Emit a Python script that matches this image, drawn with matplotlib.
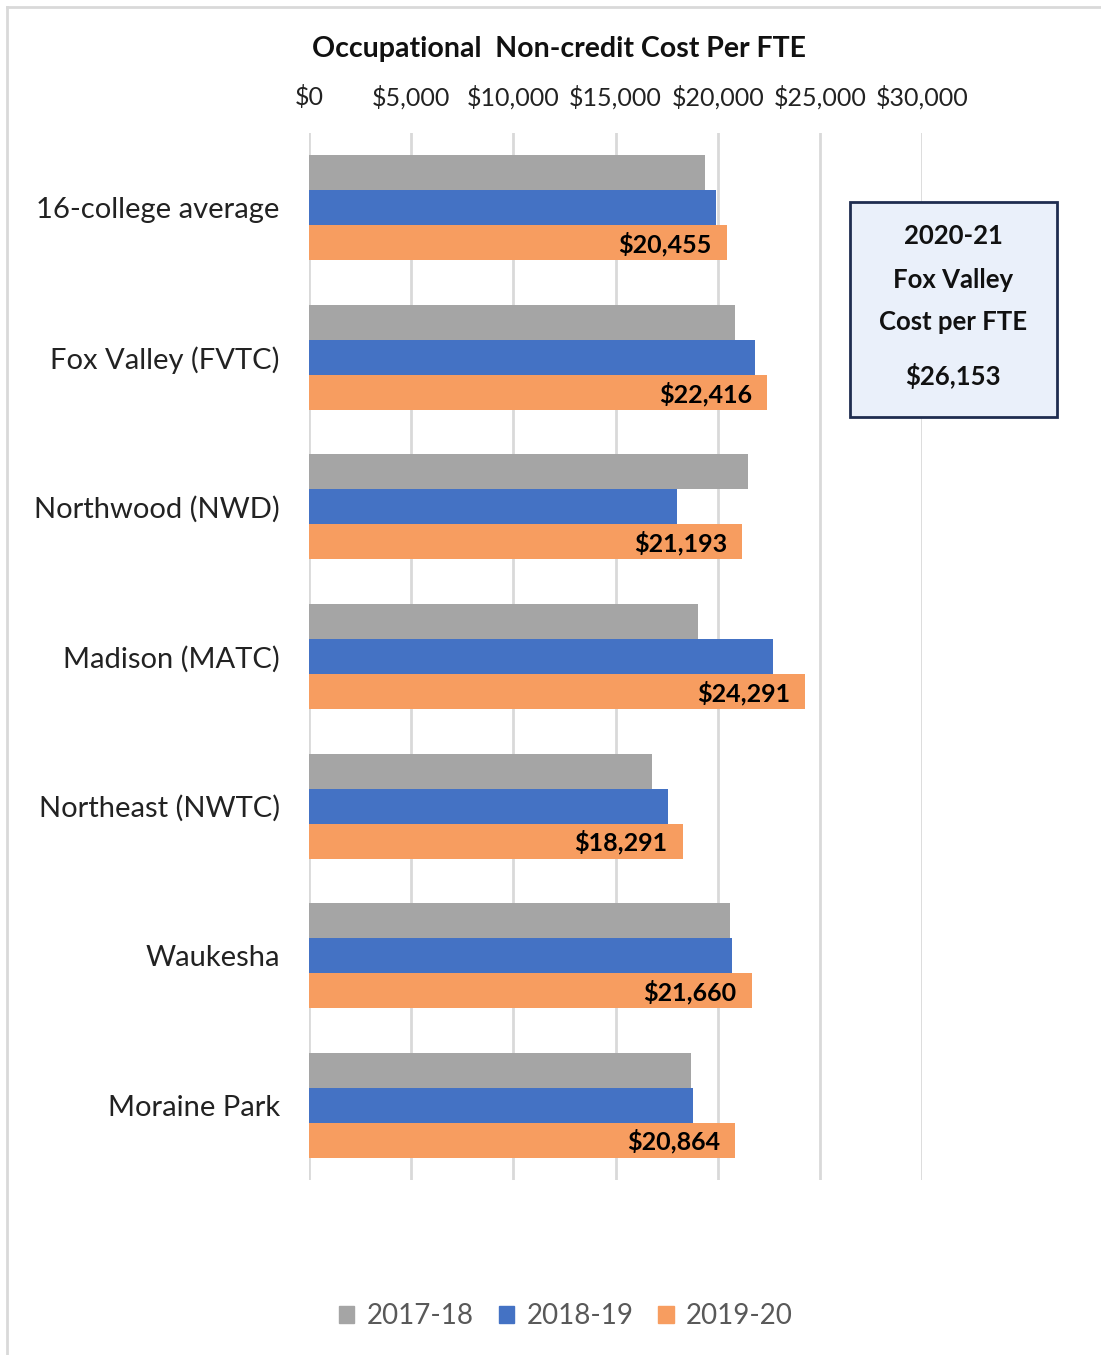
import numpy as np
import matplotlib.pyplot as plt
from matplotlib.patches import Rectangle
from matplotlib.lines import Line2D

plt.rcParams['font.family'] = ['Lato', 'DejaVu Sans']

colleges = ['16-college average', 'Fox Valley (FVTC)', 'Northwood (NWD)',
            'Madison (MATC)', 'Northeast (NWTC)', 'Waukesha', 'Moraine Park']
years = ['2017-18', '2018-19', '2019-20']
cost_1718 = [19380, 20840, 21480, 19030, 16780, 20600, 18690]
cost_1819 = [19910, 21820, 18000, 22700, 17560, 20700, 18790]
cost_1920 = [20455, 22416, 21193, 24291, 18291, 21660, 20864]
colors = ['#a5a5a5', '#4472c4', '#f79d60']
xticks = [0, 5000, 10000, 15000, 20000, 25000, 30000]

fig = plt.figure(figsize=(11.01, 13.55), dpi=100)
ax = fig.add_axes([309/1101, 1 - 1180/1355, (922-309)/1101, (1180-133)/1355])

y = np.arange(len(colleges))
h = 0.234
series = [cost_1718, cost_1819, cost_1920]
for i, (vals, c, lab) in enumerate(zip(series, colors, years)):
    ax.barh(y + (i - 1) * h, vals, height=h, color=c, label=lab, zorder=3)

# data labels on the 2019-20 bars
for yi, v in zip(y, cost_1920):
    ax.annotate(f'${v:,.0f}', xy=(v, yi + h), xytext=(-11, -1), textcoords='offset points',
                ha='right', va='center', fontsize=18, fontweight='bold', color='black', zorder=4)

ax.set_xlim(0, 30000)
ax.set_ylim(len(colleges) - 0.5, -0.5)
ax.xaxis.tick_top()
ax.set_xticks(xticks)
ax.set_xticklabels([f'${t:,}' for t in xticks], fontsize=18, color='#222222')
ax.set_yticks(y)
ax.set_yticklabels(colleges, fontsize=21, color='#222222')
ax.tick_params(axis='x', length=0, pad=17)
ax.tick_params(axis='y', length=0, pad=21)
ax.grid(axis='x', color='#d9d9d9', lw=2, zorder=0)
for s in ax.spines.values():
    s.set_visible(False)

fig.text(559/1101, 1 - 49/1355, 'Occupational  Non-credit Cost Per FTE', ha='center', va='center',
         fontsize=20.5, fontweight='bold', color='#111111')

# annotation box
fig.patches.append(Rectangle((850/1101, 1 - 417/1355), 207/1101, 215/1355, transform=fig.transFigure,
                             facecolor='#eaf0fa', edgecolor='#1f2d50', lw=2, zorder=5))
for txt, yy in [('2020-21', 236), ('Fox Valley', 280), ('Cost per FTE', 322), ('$26,153', 376)]:
    fig.text(953/1101, 1 - yy/1355, txt, ha='center', va='center', fontsize=18.5,
             fontweight='bold', color='#111111', zorder=6)

# outer frame (top and left edges)
fig.lines.append(Line2D([7/1101, 7/1101], [0, 1 - 7/1355], transform=fig.transFigure, color='#d9d9d9', lw=2))
fig.lines.append(Line2D([7/1101, 1], [1 - 7/1355, 1 - 7/1355], transform=fig.transFigure, color='#d9d9d9', lw=2))

handles = [Rectangle((0, 0), 1, 1, color=c) for c in colors]
fig.legend(handles, years, loc='center', bbox_to_anchor=(566/1101, 1 - 1316/1355), ncol=3,
           frameon=False, fontsize=20, handlelength=0.55, handleheight=0.55, handletextpad=0.45,
           columnspacing=0.9, labelcolor='#595959')

fig.savefig('out.png', dpi=100)
